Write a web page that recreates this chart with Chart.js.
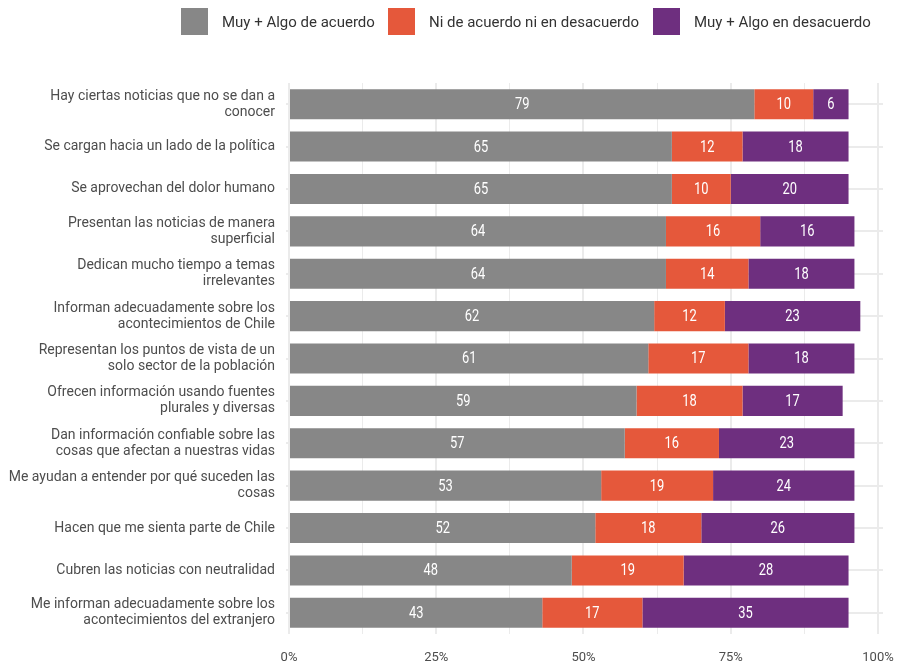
<!DOCTYPE html>
<html>
<head>
<meta charset="utf-8">
<script src="https://cdn.jsdelivr.net/npm/chart.js@4"></script>
<style>
  body { margin: 0; background: #fff; font-family: Roboto, sans-serif; }
  #wrap { position: relative; width: 897px; height: 663px; }
  .leg { position: absolute; top: 8px; display: flex; align-items: center; font-size: 15px; color: #333; }
  .leg span.box { display: inline-block; width: 27px; height: 27px; margin-right: 14px; }
</style>
</head>
<body>
<div id="wrap">
  <div class="leg" style="left:181px"><span class="box" style="background:#878787"></span>Muy + Algo de acuerdo</div>
  <div class="leg" style="left:388px"><span class="box" style="background:#E5583B"></span>Ni de acuerdo ni en desacuerdo</div>
  <div class="leg" style="left:653px"><span class="box" style="background:#6E2F7F"></span>Muy + Algo en desacuerdo</div>
  <canvas id="chart" width="897" height="663"></canvas>
</div>
<script>
const categories = [
  ['Hay ciertas noticias que no se dan a', 'conocer'],
  'Se cargan hacia un lado de la política',
  'Se aprovechan del dolor humano',
  ['Presentan las noticias de manera', 'superficial'],
  ['Dedican mucho tiempo a temas', 'irrelevantes'],
  ['Informan adecuadamente sobre los', 'acontecimientos de Chile'],
  ['Representan los puntos de vista de un', 'solo sector de la población'],
  ['Ofrecen información usando fuentes', 'plurales y diversas'],
  ['Dan información confiable sobre las', 'cosas que afectan a nuestras vidas'],
  ['Me ayudan a entender por qué suceden las', 'cosas'],
  'Hacen que me sienta parte de Chile',
  'Cubren las noticias con neutralidad',
  ['Me informan adecuadamente sobre los', 'acontecimientos del extranjero']
];
const seriesNames = ['Muy + Algo de acuerdo', 'Ni de acuerdo ni en desacuerdo', 'Muy + Algo en desacuerdo'];
const acuerdo    = [79, 65, 65, 64, 64, 62, 61, 59, 57, 53, 52, 48, 43];
const neutral    = [10, 12, 10, 16, 14, 12, 17, 18, 16, 19, 18, 19, 17];
const desacuerdo = [ 6, 18, 20, 16, 18, 23, 18, 17, 23, 24, 26, 28, 35];
const tickValues = [0, 25, 50, 75, 100];
const minorTicks = [12.5, 37.5, 62.5, 87.5];
const colors = ['#878787', '#E5583B', '#6E2F7F'];

// white value labels inside the bars
const barLabels = {
  id: 'barLabels',
  afterDatasetsDraw(chart) {
    const ctx = chart.ctx;
    ctx.save();
    ctx.fillStyle = '#fff';
    ctx.font = '15px Roboto';
    ctx.textAlign = 'center';
    ctx.textBaseline = 'middle';
    chart.data.datasets.forEach((ds, i) => {
      chart.getDatasetMeta(i).data.forEach((bar, j) => {
        const cx = (bar.x + bar.base) / 2;
        ctx.save();
        ctx.translate(cx, bar.y + 1);
        ctx.scale(0.86, 1.05);
        ctx.fillText(String(ds.data[j]), 0, 0);
        ctx.restore();
      });
    });
    ctx.restore();
  }
};

new Chart(document.getElementById('chart'), {
  type: 'bar',
  data: {
    labels: categories,
    datasets: [
      { label: seriesNames[0], data: acuerdo, backgroundColor: colors[0] },
      { label: seriesNames[1], data: neutral, backgroundColor: colors[1] },
      { label: seriesNames[2], data: desacuerdo, backgroundColor: colors[2] }
    ]
  },
  options: {
    indexAxis: 'y',
    responsive: false,
    animation: false,
    layout: { padding: { top: 83, right: 14, bottom: 0, left: 0 } },
    datasets: { bar: { barPercentage: 0.71, categoryPercentage: 1 } },
    plugins: { legend: { display: false }, tooltip: { enabled: false } },
    scales: {
      x: {
        stacked: true,
        min: -0.51,
        max: 100.85,
        afterBuildTicks(scale) {
          scale.ticks = tickValues.concat(minorTicks).sort((a, b) => a - b).map(v => ({ value: v }));
        },
        afterFit(scale) {
          scale.height = 29;
          scale.paddingLeft = 0;
          scale.paddingRight = 0;
        },
        border: { display: false },
        grid: {
          color: '#ebebeb',
          lineWidth: c => (c.tick && tickValues.includes(c.tick.value)) ? 2 : 1,
          drawTicks: false
        },
        ticks: {
          padding: 16,
          maxRotation: 0,
          autoSkip: false,
          color: '#4d4d4d',
          font: { family: 'Roboto', size: 13 },
          callback: v => tickValues.includes(v) ? v + '%' : ''
        }
      },
      y: {
        stacked: true,
        afterFit(scale) { scale.width = 286; },
        border: { display: false },
        grid: { color: '#ebebeb', lineWidth: 2, offset: false, drawTicks: false },
        ticks: {
          padding: 11,
          color: '#4d4d4d',
          font: { family: 'Roboto', size: 14, lineHeight: 1.15 }
        }
      }
    }
  },
  plugins: [barLabels]
});
</script>
</body>
</html>
